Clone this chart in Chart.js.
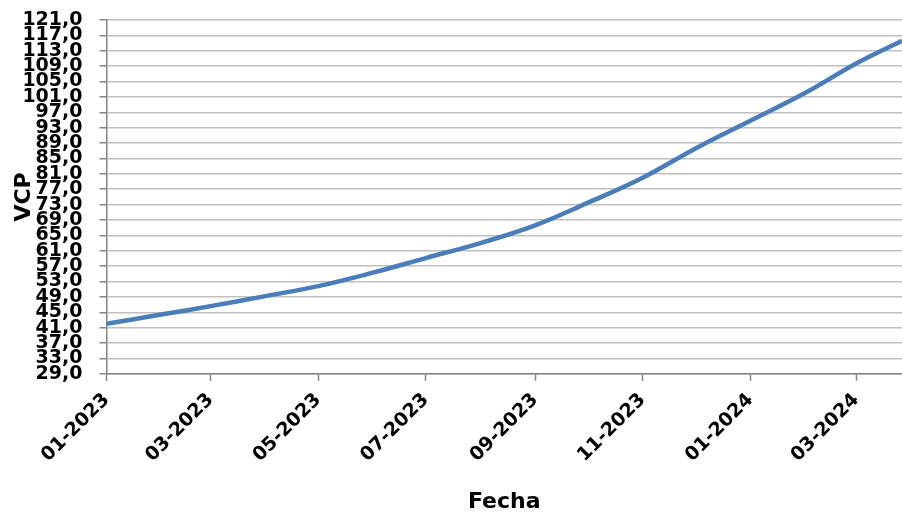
<!DOCTYPE html>
<html>
<head>
<meta charset="utf-8">
<script src="https://cdn.jsdelivr.net/npm/chart.js@4.4.1/dist/chart.umd.min.js"></script>
<style>
  html, body { margin: 0; padding: 0; background: #fff; }
  #wrap { width: 902px; height: 515px; }
</style>
</head>
<body>
<div id="wrap"><canvas id="myChart"></canvas></div>
<script>
// fechas (primer dia de cada mes + ultimo punto)
let fechas = ["2023-01-01", "2023-02-01", "2023-03-01", "2023-04-01", "2023-05-01", "2023-06-01",
  "2023-07-01", "2023-08-01", "2023-09-01", "2023-10-01", "2023-11-01", "2023-12-01",
  "2024-01-01", "2024-02-01", "2024-03-01", "2024-03-27"];
let vcp = [42.0, 44.4, 46.6, 49.2, 51.8, 55.3, 59.1, 63.0, 67.6, 73.5, 80.0, 87.6,
  94.8, 102.0, 109.7, 115.6];

let tickFechas = ["2023-01-01", "2023-03-01", "2023-05-01", "2023-07-01", "2023-09-01",
  "2023-11-01", "2024-01-01", "2024-03-01"];
let tickLabels = ["01-2023", "03-2023", "05-2023", "07-2023", "09-2023", "11-2023", "01-2024", "03-2024"];

let yMin = 29;
let yMax = 121;
let yStep = 4;

function dias(f) {
  let p = f.split("-");
  return Math.round((Date.UTC(+p[0], +p[1] - 1, +p[2]) - Date.UTC(2023, 0, 1)) / 86400000);
}

let puntos = fechas.map((f, i) => ({ x: dias(f), y: vcp[i] }));
let tickDias = tickFechas.map(dias);

let fuente = "'DejaVu Sans', sans-serif";
let gris = "#868686";

let ctx = document.getElementById("myChart").getContext("2d");
let myChart = new Chart(ctx, {
  type: "line",
  data: {
    datasets: [{
      data: puntos,
      borderColor: "#4A7EBB",
      borderWidth: 4.5,
      pointRadius: 0,
      tension: 0.4,
      fill: false
    }]
  },
  options: {
    responsive: true,
    maintainAspectRatio: false,
    animation: false,
    layout: { padding: { left: 11, top: 20, right: 0, bottom: 0 } },
    plugins: {
      legend: { display: false },
      tooltip: { enabled: false }
    },
    scales: {
      x: {
        type: "linear",
        min: 0,
        max: 451,
        afterBuildTicks: axis => { axis.ticks = tickDias.map(v => ({ value: v })); },
        ticks: {
          autoSkip: false,
          minRotation: 45,
          maxRotation: 45,
          padding: 8,
          color: "#000",
          font: { family: fuente, size: 19, weight: "bold" },
          callback: (v, i) => tickLabels[i]
        },
        grid: { drawOnChartArea: false, tickColor: gris, tickLength: 7, tickWidth: 1.5 },
        border: { color: gris, width: 1.5 },
        title: {
          display: true,
          text: "Fecha",
          color: "#000",
          font: { family: fuente, size: 22, weight: "bold" },
          padding: { top: 14, bottom: 0 }
        }
      },
      y: {
        min: yMin,
        max: yMax,
        // la etiqueta de arriba puede salirse un poco, como en el original
        afterFit: s => { s.paddingTop = 0; s.paddingBottom = 0; },
        ticks: {
          stepSize: yStep,
          autoSkip: false,
          padding: 17,
          color: "#000",
          font: { family: fuente, size: 19, weight: "bold" },
          callback: v => v.toFixed(1).replace(".", ",")
        },
        grid: { color: "#c0c0c0", lineWidth: 1.5, tickColor: gris, tickLength: 7, tickWidth: 1.5 },
        border: { color: gris, width: 1.5 },
        title: {
          display: true,
          text: "VCP",
          color: "#000",
          font: { family: fuente, size: 22, weight: "bold" },
          padding: { top: 0, bottom: -32 }
        }
      }
    }
  }
});
</script>
</body>
</html>
